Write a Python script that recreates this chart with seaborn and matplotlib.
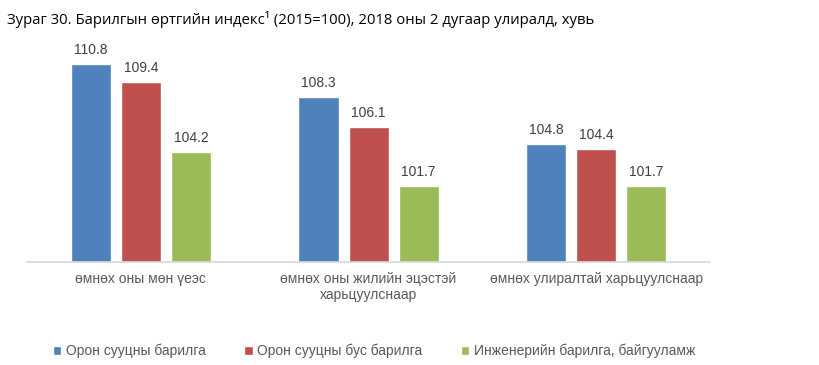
import matplotlib
matplotlib.use("Agg")
import matplotlib.pyplot as plt
import seaborn as sns
import pandas as pd

categories = ["өмнөх оны мөн үеэс", "өмнөх оны жилийн эцэстэй\nхарьцуулснаар", "өмнөх улиралтай харьцуулснаар"]
series_names = ["Орон сууцны барилга", "Орон сууцны бус барилга", "Инженерийн барилга, байгууламж"]
housing = [110.8, 108.3, 104.8]
non_housing = [109.4, 106.1, 104.4]
engineering = [104.2, 101.7, 101.7]
colors = ["#4F81BD", "#C0504D", "#9BBB59"]
title = "Зураг 30. Барилгын өртгийн индекс¹ (2015=100), 2018 оны 2 дугаар улиралд, хувь"

rows = []
for name, vals in zip(series_names, [housing, non_housing, engineering]):
    for c, v in zip(categories, vals):
        rows.append({"cat": c, "series": name, "value": v})
df = pd.DataFrame(rows)

sns.set_theme(style="white")
plt.rcParams['font.family'] = ['Liberation Sans', 'DejaVu Sans']

fig = plt.figure(figsize=(8.2, 3.65), dpi=100)
ax = fig.add_axes([0.033, 0.282, 0.833, 0.588])
sns.barplot(data=df, x="cat", y="value", hue="series", palette=colors,
            width=0.66, gap=0.2, ax=ax, saturation=1, legend=True)
ax.set_ylim(96, 112)
ax.set_xlim(-0.5, 2.5)
for cont in ax.containers:
    ax.bar_label(cont, fmt="%.1f", padding=5, fontsize=10, color="#404040")
ax.set_xlabel("")
ax.set_ylabel("")
ax.set_yticks([])
for s in ["top", "right", "left"]:
    ax.spines[s].set_visible(False)
ax.spines["bottom"].set_color("#D9D9D9")
ax.tick_params(axis="x", length=0, labelsize=10, labelcolor="#595959", pad=7)

leg = ax.legend(loc="upper left", bbox_to_anchor=(0.03, -0.355), ncol=3, frameon=False,
                fontsize=10, handlelength=0.6, handleheight=0.6, handletextpad=0.3,
                columnspacing=2.8, borderaxespad=0)
for t in leg.get_texts():
    t.set_color("#595959")

fig.text(0.008, 0.935, title, fontsize=10.7, family=['Open Sans', 'DejaVu Sans'], color="#000000")
fig.savefig("out.png", dpi=100)
